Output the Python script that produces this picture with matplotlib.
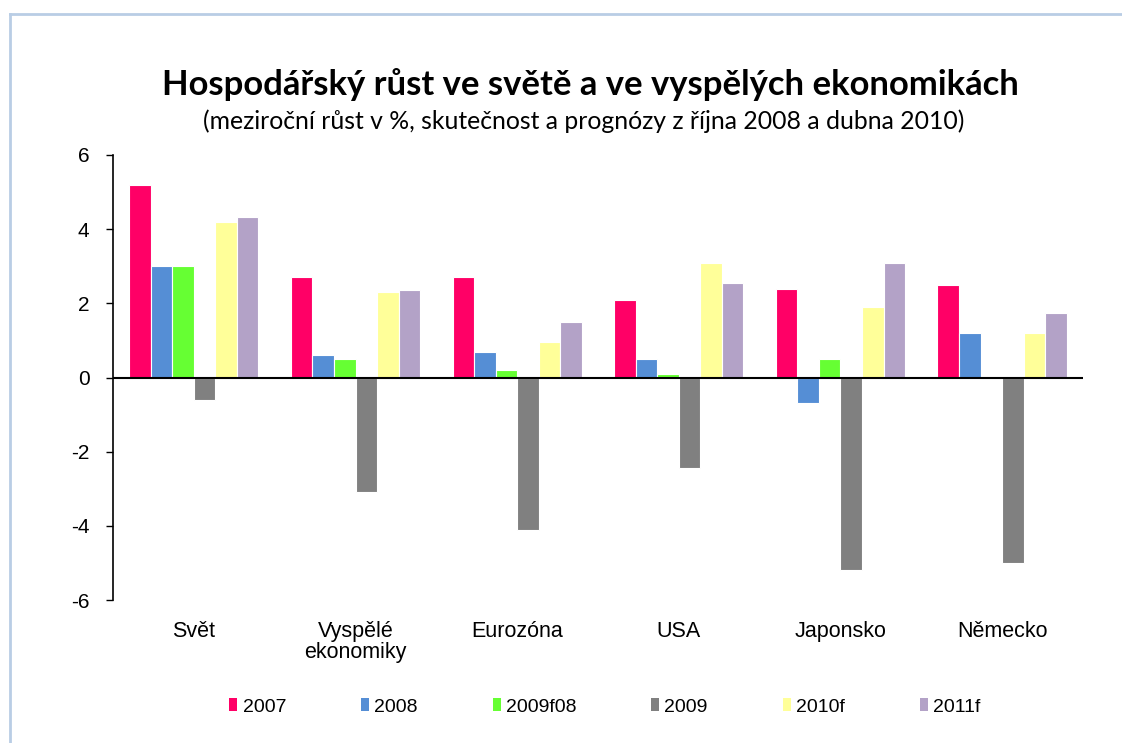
import matplotlib
matplotlib.use("Agg")
import matplotlib.pyplot as plt
from matplotlib.patches import Patch
from matplotlib.lines import Line2D
import numpy as np

plt.rcParams['axes.unicode_minus'] = False

categories = ["Svět", "Vyspělé\nekonomiky", "Eurozóna", "USA", "Japonsko", "Německo"]
series_names = ["2007", "2008", "2009f08", "2009", "2010f", "2011f"]
v2007 = [5.2, 2.7, 2.7, 2.1, 2.4, 2.5]
v2008 = [3.0, 0.6, 0.7, 0.5, -0.7, 1.2]
v2009f08 = [3.0, 0.5, 0.2, 0.1, 0.5, 0.0]
v2009 = [-0.6, -3.1, -4.1, -2.45, -5.2, -5.0]
v2010f = [4.2, 2.3, 0.95, 3.1, 1.9, 1.2]
v2011f = [4.33, 2.37, 1.5, 2.55, 3.1, 1.73]
colors = ["#FF0066", "#558ED5", "#66FF33", "#808080", "#FFFF99", "#B3A2C7"]
yticks = [-6, -4, -2, 0, 2, 4, 6]

series = [v2007, v2008, v2009f08, v2009, v2010f, v2011f]

fig = plt.figure(figsize=(11.22, 7.43), dpi=100)
ax = fig.add_axes([113/1122, 1-600/743, (1083-113)/1122, (600-155)/743])

x = np.arange(len(categories))
bw = 0.8 / len(series)
for i, (vals, c, name) in enumerate(zip(series, colors, series_names)):
    ax.bar(x - 0.4 + bw*(i+0.5), vals, width=bw, color=c, edgecolor='white',
           linewidth=0.8, label=name, zorder=2)

ax.set_xlim(-0.5, len(categories)-0.5)
ax.set_ylim(-6, 6)
ax.set_yticks(yticks)
ax.set_yticklabels([str(t) for t in yticks], fontsize=15, family='Liberation Sans')
ax.set_xticks(x)
ax.set_xticklabels(categories, fontsize=15.5, family='Liberation Sans', linespacing=1.0)
ax.tick_params(axis='x', length=0, pad=15)
ax.tick_params(axis='y', length=5, width=1, direction='out', pad=12)
for s in ['top', 'right', 'bottom']:
    ax.spines[s].set_visible(False)
ax.spines['left'].set_linewidth(1.2)
ax.axhline(0, color='black', lw=1.5, zorder=3)

fig.text(0.526, 1-95/743, "Hospodářský růst ve světě a ve vyspělých ekonomikách",
         ha='center', va='baseline', fontsize=24.9, fontweight='bold', family='Lato')
fig.text(0.520, 1-129/743, "(meziroční růst v %, skutečnost a prognózy z října 2008 a dubna 2010)",
         ha='center', va='baseline', fontsize=17.8, family='Lato')

handles = [Patch(facecolor=c, edgecolor='none') for c in colors]
leg = fig.legend(handles, series_names, loc='center left',
                 bbox_to_anchor=(212/1122, 1-707/743), ncol=6, frameon=False,
                 handlelength=0.41, handleheight=0.6, handletextpad=0.26,
                 columnspacing=3.86, prop={'family': 'Liberation Sans', 'size': 14})

# chart border (left and top)
fig.add_artist(Line2D([9.5/1122, 9.5/1122], [0, 1-14/743], transform=fig.transFigure,
                      color='#B9CDE5', lw=2))
fig.add_artist(Line2D([9.5/1122, 1], [1-14/743, 1-14/743], transform=fig.transFigure,
                      color='#B9CDE5', lw=2))

fig.savefig("out.png", dpi=100, facecolor='white')
